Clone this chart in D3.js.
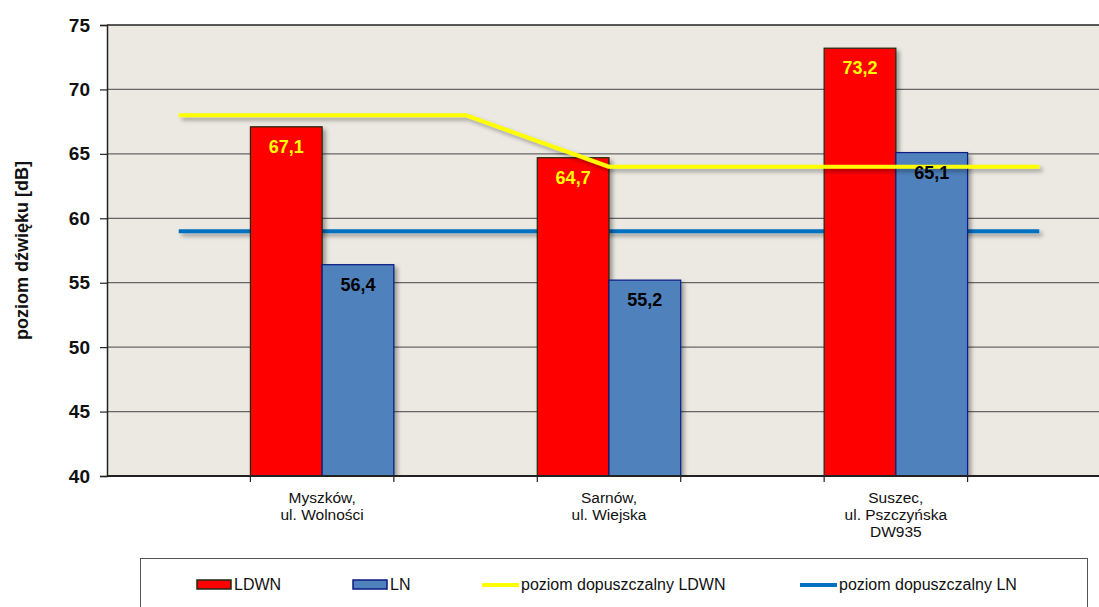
<!DOCTYPE html>
<html>
<head>
<meta charset="utf-8">
<script src="https://cdn.jsdelivr.net/npm/d3@7"></script>
<style>
  html, body { margin: 0; padding: 0; background: #fff; }
  svg { display: block; font-family: "Liberation Sans", Arial, sans-serif; }
</style>
</head>
<body>
<svg id="chart" width="1099" height="607"></svg>
<script>
// Measurement sites (multi-line labels)
const categories = [
  ["Myszków,", "ul. Wolności"],
  ["Sarnów,", "ul. Wiejska"],
  ["Suszec,", "ul. Pszczyńska", "DW935"]
];
// Measured levels [dB]
const ldwnValues = [67.1, 64.7, 73.2];
const lnValues = [56.4, 55.2, 65.1];
// Permissible levels: [category position, dB]
const limitLdwn = [[-0.5, 68], [0.5, 68], [1, 64], [2.5, 64]];
const limitLn = [[-0.5, 59], [2.5, 59]];
const yTicks = [40, 45, 50, 55, 60, 65, 70, 75];

const svg = d3.select("#chart");
const plot = { left: 107, top: 25, right: 1111, bottom: 476 };

const x = d3.scaleLinear().domain([-0.75, 2.75]).range([plot.left, plot.right]);
const y = d3.scaleLinear().domain([40, 75]).range([plot.bottom, plot.top]);
const barW = (x(1) - x(0)) * 0.25;

// soft drop shadow for bars and lines (user space so flat lines keep a region)
const defs = svg.append("defs");
const f = defs.append("filter").attr("id", "shadow")
  .attr("filterUnits", "userSpaceOnUse")
  .attr("x", 0).attr("y", 0).attr("width", 1099).attr("height", 607);
f.append("feDropShadow").attr("dx", 3).attr("dy", 3).attr("stdDeviation", 2)
  .attr("flood-color", "#000").attr("flood-opacity", 0.35);
defs.append("clipPath").attr("id", "clip").append("rect")
  .attr("x", plot.left).attr("y", plot.top - 5)
  .attr("width", plot.right - plot.left).attr("height", plot.bottom - plot.top + 5);

// plot background
svg.append("rect")
  .attr("x", plot.left).attr("y", plot.top)
  .attr("width", plot.right - plot.left).attr("height", plot.bottom - plot.top)
  .attr("fill", "#ece9e2");

// horizontal gridlines
svg.append("g").selectAll("line").data(yTicks).join("line")
  .attr("x1", plot.left).attr("x2", plot.right)
  .attr("y1", d => y(d)).attr("y2", d => y(d))
  .attr("stroke", d => d === 75 ? "#222" : "#666")
  .attr("stroke-width", d => d === 75 ? 1.5 : 1.2);

const g = svg.append("g").attr("clip-path", "url(#clip)");

const line = d3.line().x(d => x(d[0])).y(d => y(d[1]));

// LN limit drawn behind bars
g.append("path").datum(limitLn)
  .attr("d", line).attr("fill", "none")
  .attr("stroke", "#0070c0").attr("stroke-width", 4)
  .attr("filter", "url(#shadow)");

// bars
g.append("g").selectAll("rect").data(ldwnValues).join("rect")
  .attr("x", (d, i) => x(i) - barW)
  .attr("y", d => y(d))
  .attr("width", barW)
  .attr("height", d => y(40) - y(d))
  .attr("fill", "#ff0000").attr("stroke", "#1a2a10").attr("stroke-width", 1.2)
  .attr("filter", "url(#shadow)");

g.append("g").selectAll("rect").data(lnValues).join("rect")
  .attr("x", (d, i) => x(i))
  .attr("y", d => y(d))
  .attr("width", barW)
  .attr("height", d => y(40) - y(d))
  .attr("fill", "#4f81bd").attr("stroke", "#0a1a80").attr("stroke-width", 1.2)
  .attr("filter", "url(#shadow)");

// bar value labels
const fmt = v => d3.format(".1f")(v).replace(".", ",");
svg.append("g").selectAll("text").data(ldwnValues).join("text")
  .attr("x", (d, i) => x(i) - barW / 2)
  .attr("y", d => y(d) + 26)
  .attr("text-anchor", "middle")
  .attr("font-size", 18).attr("font-weight", "bold")
  .attr("fill", "#ffff00")
  .text(fmt);

svg.append("g").selectAll("text").data(lnValues).join("text")
  .attr("x", (d, i) => x(i) + barW / 2)
  .attr("y", d => y(d) + 26)
  .attr("text-anchor", "middle")
  .attr("font-size", 18).attr("font-weight", "bold")
  .attr("fill", "#000")
  .text(fmt);

// LDWN limit drawn on top
g.append("path").datum(limitLdwn)
  .attr("d", line).attr("fill", "none")
  .attr("stroke", "#ffff00").attr("stroke-width", 4)
  .attr("stroke-linejoin", "round")
  .attr("filter", "url(#shadow)");

// y axis
const yAxis = svg.append("g").attr("transform", `translate(${plot.left},0)`)
  .call(d3.axisLeft(y).tickValues(yTicks).tickSize(7).tickPadding(10).tickFormat(d3.format("d")));
yAxis.select(".domain").attr("stroke", "#222").attr("stroke-width", 1.5);
yAxis.selectAll(".tick line").attr("stroke", "#222").attr("stroke-width", 1.2);
yAxis.selectAll("text").attr("font-size", 19).attr("font-weight", "bold")
  .attr("fill", "#111").attr("font-family", "Liberation Sans, Arial, sans-serif");

// x axis line and tick marks at the edges of each bar group
svg.append("line")
  .attr("x1", plot.left).attr("x2", plot.right)
  .attr("y1", plot.bottom).attr("y2", plot.bottom)
  .attr("stroke", "#222").attr("stroke-width", 1.8);
const edgeTicks = d3.range(categories.length).flatMap(i => [x(i) - barW, x(i) + barW]);
svg.append("g").selectAll("line").data(edgeTicks).join("line")
  .attr("x1", d => d).attr("x2", d => d)
  .attr("y1", plot.bottom).attr("y2", plot.bottom + 6)
  .attr("stroke", "#222").attr("stroke-width", 1.2);

// category labels
svg.append("g").selectAll("text").data(categories).join("text")
  .attr("text-anchor", "middle")
  .attr("font-size", 15.5).attr("fill", "#111")
  .each(function(lines, i) {
    d3.select(this).selectAll("tspan").data(lines).join("tspan")
      .attr("x", x(i)).attr("y", (d, j) => 503 + j * 17)
      .text(d => d);
  });

// y axis title
svg.append("text")
  .attr("transform", `translate(28,${(plot.top + plot.bottom) / 2}) rotate(-90)`)
  .attr("text-anchor", "middle")
  .attr("font-size", 18).attr("font-weight", "bold").attr("fill", "#111")
  .text("poziom dźwięku [dB]");

// legend
const legend = svg.append("g");
legend.append("rect")
  .attr("x", 140.5).attr("y", 558.5).attr("width", 947).attr("height", 70)
  .attr("fill", "#fff").attr("stroke", "#555").attr("stroke-width", 1);

const legendItems = [
  { label: "LDWN", type: "rect", fill: "#ff0000", stroke: "#1a2a10", x: 197 },
  { label: "LN", type: "rect", fill: "#4f81bd", stroke: "#0a1a80", x: 353 },
  { label: "poziom dopuszczalny LDWN", type: "line", stroke: "#ffff00", x: 482 },
  { label: "poziom dopuszczalny LN", type: "line", stroke: "#0070c0", x: 800 }
];
legendItems.forEach(item => {
  const lg = legend.append("g");
  if (item.type === "rect") {
    lg.append("rect").attr("x", item.x).attr("y", 580).attr("width", 34).attr("height", 9)
      .attr("fill", item.fill).attr("stroke", item.stroke).attr("stroke-width", 1.5);
  } else {
    lg.append("line").attr("x1", item.x).attr("x2", item.x + 37)
      .attr("y1", 585).attr("y2", 585)
      .attr("stroke", item.stroke).attr("stroke-width", 4);
  }
  lg.append("text")
    .attr("x", item.x + (item.type === "rect" ? 37 : 39)).attr("y", 590)
    .attr("font-size", 16).attr("fill", "#111")
    .text(item.label);
});
</script>
</body>
</html>
